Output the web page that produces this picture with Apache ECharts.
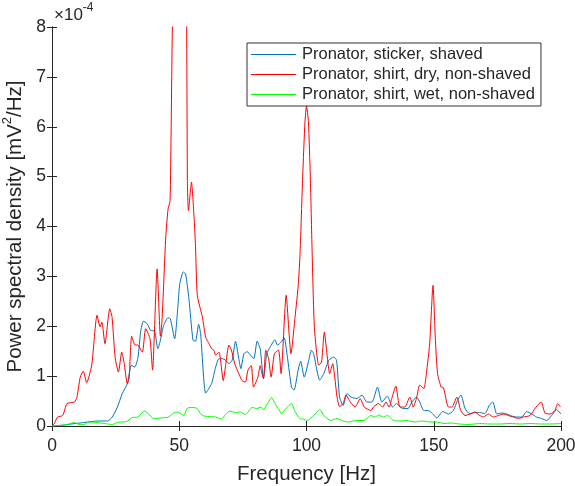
<!DOCTYPE html>
<html>
<head>
<meta charset="utf-8">
<script src="https://cdn.jsdelivr.net/npm/echarts@6/dist/echarts.min.js"></script>
<style>
html,body{margin:0;padding:0;background:#fff;}
#chart{width:575px;height:486px;}
</style>
</head>
<body>
<div id="chart"></div>
<script>
// values in units of 1e-4 mV^2/Hz
var seriesNames = ['Pronator, sticker, shaved', 'Pronator, shirt, dry, non-shaved', 'Pronator, shirt, wet, non-shaved'];
var xTicks = [0, 50, 100, 150, 200];
var yTicks = [0, 1, 2, 3, 4, 5, 6, 7, 8];

var blueFreq = [0,5,7.5,11,14,17.9,21.8,23.7,25.7,27.6,29.6,31.2,32.5,33.8,34.8,35.9,37.4,38.7,40.3,41.6,42.6,43.9,45.6,46.5,48.2,49.5,50.2,51.6,52.5,53.8,55.4,56.4,57.6,58.4,60.4,62.7,64.3,65.6,67.0,68.2,69.5,70.8,72.1,73.4,74.2,75.4,76.7,78.0,79.3,80.6,81.8,83.1,84.4,85.7,87.6,88.6,90.0,91.2,92.5,94.1,95.1,96.7,97.7,99.1,100.9,101.9,102.8,105.2,106.8,108.8,110.7,111.8,113.0,114.4,115.9,117.5,119.8,121.8,123.7,125.7,127.9,129.6,131.8,133.8,135.4,137.7,139.9,141.2,143.2,144.5,146.1,147.8,149.5,151.2,153.5,155.8,157.7,159.3,160.7,162.3,164.2,166.2,168.0,170.0,171.9,173.2,174.8,176.7,178.7,180.6,182.6,184.6,186.5,188.5,190.4,192.4,194.4,196.3,198.3,200];
var blueVals = [0,0.02,0.04,0.06,0.08,0.10,0.10,0.18,0.38,0.65,0.85,1.22,1.18,1.38,1.88,2.10,2.05,1.92,1.90,1.55,1.72,2.02,2.17,2.15,1.75,2.42,2.85,3.09,3.05,2.55,1.72,1.70,2.04,1.85,0.66,0.85,1.18,1.35,1.35,1.32,1.25,1.32,1.70,1.35,1.15,1.45,1.49,1.42,1.35,1.70,1.55,0.95,1.45,1.58,1.73,1.62,1.68,1.77,1.38,0.78,0.72,1.12,1.30,0.98,1.32,1.52,1.45,0.92,1.05,1.32,1.38,1.32,0.58,0.41,0.65,0.58,0.55,0.62,0.48,0.48,0.78,0.48,0.60,0.38,0.45,0.35,0.35,0.46,0.58,0.48,0.31,0.31,0.25,0.16,0.29,0.24,0.31,0.51,0.62,0.35,0.24,0.27,0.27,0.25,0.42,0.48,0.24,0.26,0.24,0.20,0.18,0.18,0.29,0.24,0.18,0.15,0.11,0.21,0.33,0.24];

var redFreq = [0,0.9,2.2,4.2,5.9,8.8,9.8,11.1,12.3,13.6,15.6,17.7,18.9,19.6,20.8,22.7,23.6,24.8,26.1,27.4,28.3,29.6,30.3,31.3,32.5,33.8,35.5,36.8,38.5,39.5,41.3,42.6,43.2,44.0,44.7,45.6,46.4,47.3,48.5,50.0,51.5,52.8,53.2,53.6,54.8,55.8,56.4,57.1,59.1,60.4,61.7,62.7,63.6,64.3,65.6,67.3,68.2,69.5,70.5,71.8,73.4,74.7,76.0,77.0,78.3,79.2,80.9,81.8,82.5,83.1,84.0,85.1,86.1,87.4,89.0,90.0,92.0,93.9,95.5,96.8,97.5,98.5,99.4,100.0,100.75,101.5,102.2,103.1,104.8,105.9,107.0,108.1,109.1,110.3,111.1,112.0,113.0,114.4,115.5,117.2,119.1,121.1,122.7,125.3,126.3,128.3,129.9,131.2,132.5,133.5,135.1,136.7,138.6,140.6,141.9,143.2,144.5,146.1,147.1,148.4,149.7,150.6,151.5,152.9,153.8,155.8,157.1,159.1,160.6,162.3,164.2,166.2,167.8,169.5,171.5,173.4,175.4,177.4,179.3,181.3,183.3,185.2,187.8,190.2,192.2,193.7,195.7,197.6,198.7,199.8];
var redVals = [0,0.05,0.18,0.21,0.45,0.48,0.58,0.98,1.10,0.87,1.22,2.22,1.99,2.08,1.65,2.35,2.18,1.38,1.08,1.48,1.28,0.85,0.95,1.80,1.63,1.62,1.48,1.95,1.75,1.12,3.15,1.80,2.10,2.99,3.79,4.35,4.52,8.0,10.5,12.0,10.5,8.5,4.92,4.32,4.89,4.20,3.60,2.62,2.18,1.78,1.65,1.55,1.52,1.42,1.48,0.91,1.21,1.62,1.52,1.25,1.05,0.91,0.88,1.12,1.21,0.78,0.98,1.21,1.05,0.95,1.52,1.35,0.98,1.45,1.52,1.05,2.62,1.45,2.18,2.85,3.50,5.00,6.10,6.42,6.10,5.00,3.52,1.98,1.22,1.28,1.88,1.42,1.05,1.25,0.98,0.58,0.39,0.45,0.62,0.48,0.38,0.55,0.38,0.31,0.38,0.45,0.38,0.48,0.38,0.55,0.80,0.38,0.38,0.58,0.38,0.55,0.82,0.75,1.05,1.65,2.82,1.78,1.05,0.78,0.77,0.38,0.38,0.58,0.31,0.21,0.24,0.28,0.22,0.18,0.24,0.18,0.21,0.24,0.21,0.18,0.15,0.18,0.21,0.38,0.48,0.26,0.24,0.31,0.45,0.38];

var greenFreq = [0,3,6,8.7,10.7,12.5,14.7,17.9,21.8,23.7,26.3,28.9,31.5,33.7,36.4,38.4,39.9,42.6,45.8,47.8,49.0,50.3,51.8,53.2,55.4,57.1,58.3,59.7,62.3,64.3,66.6,68.2,69.9,72.1,74.0,76.0,78.6,80.5,82.1,83.1,84.7,86.3,87.6,88.9,90.2,91.9,94.1,95.4,97.4,98.7,100.3,102.9,105.2,106.8,109.5,112.0,114.4,116.6,119.2,122.5,125.3,127.0,128.3,130.2,131.8,134.1,136.7,139.3,142.6,145.2,148.4,151.0,154.0,157.0,160.0,164.0,168.0,172.0,176.0,180.0,184.0,188.0,192.0,196.0,200.0];
var greenVals = [0,0.01,0.03,0.07,0.03,0.03,0.08,0.07,0.04,0.03,0.08,0.08,0.17,0.18,0.30,0.22,0.15,0.16,0.18,0.26,0.28,0.26,0.21,0.36,0.37,0.35,0.25,0.20,0.19,0.18,0.14,0.23,0.30,0.27,0.28,0.23,0.37,0.35,0.38,0.33,0.45,0.57,0.45,0.35,0.25,0.35,0.45,0.30,0.15,0.14,0.11,0.21,0.33,0.21,0.11,0.15,0.10,0.08,0.11,0.11,0.21,0.18,0.22,0.18,0.21,0.11,0.10,0.11,0.08,0.10,0.08,0.08,0.05,0.06,0.04,0.03,0.05,0.04,0.04,0.05,0.04,0.05,0.04,0.04,0.05];

var colors = ['#0072BD', '#FF0000', '#00FF00'];

function pairs(fs, vs) { return fs.map(function (f, i) { return [f, vs[i]]; }); }

var chart = echarts.init(document.getElementById('chart'), null, {renderer: 'canvas'});
var axisColor = '#262626';
var font = 'Liberation Sans, Arial, Helvetica, sans-serif';

var option = {
  animation: false,
  backgroundColor: '#fff',
  grid: {left: 52, right: 14, top: 27, bottom: 60, containLabel: false, outerBoundsMode: 'none'},
  legend: {
    orient: 'vertical',
    left: 247, top: 43,
    z: 100, zlevel: 1,
    backgroundColor: '#fff',
    borderColor: '#333', borderWidth: 1, borderRadius: 0,
    padding: [3, 6, 3, 4],
    itemWidth: 45, itemHeight: 17, itemGap: 3,
    textStyle: {fontFamily: font, fontSize: 16.5, color: '#262626', padding: [0, 0, 0, 1]},
    data: seriesNames.map(function (n) { return {name: n, icon: 'path://M0,8L45,8L45,9L0,9Z'}; })
  },
  xAxis: [{
    type: 'value', min: 0, max: 200, interval: 50,
    name: 'Frequency [Hz]', nameLocation: 'middle', nameGap: 38,
    nameTextStyle: {fontFamily: font, fontSize: 20.5, color: axisColor},
    axisLine: {show: true, lineStyle: {color: axisColor, width: 1}},
    axisTick: {show: true, inside: true, length: 5, lineStyle: {color: axisColor}},
    axisLabel: {fontFamily: font, fontSize: 17.5, color: axisColor, margin: 11,
      formatter: function (v) { return xTicks.indexOf(v) >= 0 ? String(v) : ''; }},
    splitLine: {show: false}
  }, {
    type: 'value', min: 0, max: 200, interval: 50, position: 'top',
    axisLine: {show: true, lineStyle: {color: axisColor, width: 1}},
    axisTick: {show: true, inside: true, length: 5, lineStyle: {color: axisColor}},
    axisLabel: {show: false}, splitLine: {show: false}
  }],
  yAxis: [{
    type: 'value', min: 0, max: 8, interval: 1,
    name: '{a|Power spectral density [mV}{s|2}{a|/Hz]}', nameLocation: 'middle', nameGap: 26,
    nameTextStyle: {
      rich: {
        a: {fontFamily: font, fontSize: 20.5, color: axisColor, lineHeight: 24, verticalAlign: 'bottom'},
        s: {fontFamily: font, fontSize: 13, color: axisColor, lineHeight: 24, verticalAlign: 'top'}
      }
    },
    axisLine: {show: true, lineStyle: {color: axisColor, width: 1}},
    axisTick: {show: true, inside: true, length: 5, lineStyle: {color: axisColor}},
    axisLabel: {fontFamily: font, fontSize: 17.5, color: axisColor, margin: 6,
      formatter: function (v) { return yTicks.indexOf(v) >= 0 ? String(v) : ''; }},
    splitLine: {show: false}
  }, {
    type: 'value', min: 0, max: 8, interval: 1, position: 'right',
    axisLine: {show: true, lineStyle: {color: axisColor, width: 1}},
    axisTick: {show: true, inside: true, length: 5, lineStyle: {color: axisColor}},
    axisLabel: {show: false}, splitLine: {show: false}
  }],
  graphic: [{
    type: 'text', left: 54, top: 2,
    style: {
      text: '{a|×10}{s|-4}',
      rich: {
        a: {fontFamily: font, fontSize: 17, fill: axisColor, lineHeight: 22, verticalAlign: 'bottom'},
        s: {fontFamily: font, fontSize: 12, fill: axisColor, lineHeight: 22, verticalAlign: 'top'}
      }
    }
  }],
  series: [
    {name: seriesNames[0], type: 'line', data: pairs(blueFreq, blueVals), showSymbol: false, symbol: 'none', clip: true,
      lineStyle: {color: colors[0], width: 1}, itemStyle: {color: colors[0]}, smooth: 0.2},
    {name: seriesNames[1], type: 'line', data: pairs(redFreq, redVals), showSymbol: false, symbol: 'none', clip: true,
      lineStyle: {color: colors[1], width: 1}, itemStyle: {color: colors[1]}, smooth: 0.2},
    {name: seriesNames[2], type: 'line', data: pairs(greenFreq, greenVals), showSymbol: false, symbol: 'none', clip: true,
      lineStyle: {color: colors[2], width: 1}, itemStyle: {color: colors[2]}, smooth: 0.2}
  ]
};
chart.setOption(option);
</script>
</body>
</html>
